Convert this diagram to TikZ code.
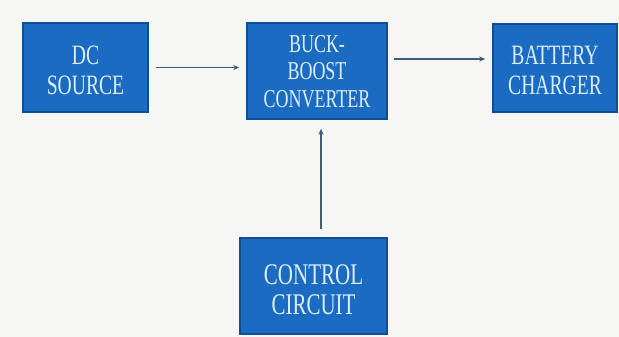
\documentclass[tikz,border=0pt]{standalone}
\usepackage{fontspec}
\setmainfont{Liberation Serif}
\usetikzlibrary{arrows.meta}
\definecolor{bgcol}{HTML}{F6F6F5}
\definecolor{boxfill}{HTML}{1B6BC3}
\definecolor{boxedge}{HTML}{0F4E94}
\definecolor{boxtext}{HTML}{DDEEFF}
\definecolor{arrcol}{HTML}{3E5C7C}
\newcommand\squeezetext[2]{\raisebox{#1}[0pt][0pt]{\scalebox{0.70}[1]{\begin{tabular}{@{}c@{}}#2\end{tabular}}}}
\tikzset{
  blockbox/.style={draw=boxedge, line width=1.5pt, fill=boxfill, text=boxtext,
    align=center, inner sep=0pt,
    font=\rmfamily\fontsize{28}{30}\selectfont},
  smallbox/.style={blockbox, font=\rmfamily\fontsize{25.7}{27.8}\selectfont},
  bigbox/.style={blockbox, font=\rmfamily\fontsize{30}{30}\selectfont},
  flow/.style={draw=arrcol, line width=1.1pt, -{Stealth[length=6pt,width=5pt]}}
}
\begin{document}
\begin{tikzpicture}[x=1pt,y=-1pt]
\fill[bgcol] (0,0) rectangle (619,337);
\useasboundingbox (0,0) rectangle (619,337);
\node[blockbox, minimum width=125pt, minimum height=89pt] (dc) at (85.5,67.5) {\squeezetext{-11.75pt}{DC\\SOURCE}};
\node[smallbox, minimum width=140pt, minimum height=96pt] (bb) at (317,71) {\squeezetext{-9.5pt}{BUCK-\\BOOST\\CONVERTER}};
\node[blockbox, minimum width=124pt, minimum height=88pt] (batt) at (555,68) {\squeezetext{-11.25pt}{BATTERY\\CHARGER}};
\node[bigbox, minimum width=147pt, minimum height=96pt] (ctrl) at (313.5,286) {\squeezetext{-13.45pt}{CONTROL\\CIRCUIT}};
\path ([yshift=12pt]bb.east) coordinate (a2s);
\path ([xshift=7.5pt]ctrl.north) coordinate (a3s);
\draw[flow, shorten <=7pt, shorten >=7pt] (dc.east) -- (dc.east -| bb.west);
\draw[flow, shorten <=6pt, shorten >=7pt] (a2s) -- (a2s -| batt.west);
\draw[flow, shorten <=8pt, shorten >=9pt] (a3s) -- (a3s |- bb.south);
\end{tikzpicture}
\end{document}
